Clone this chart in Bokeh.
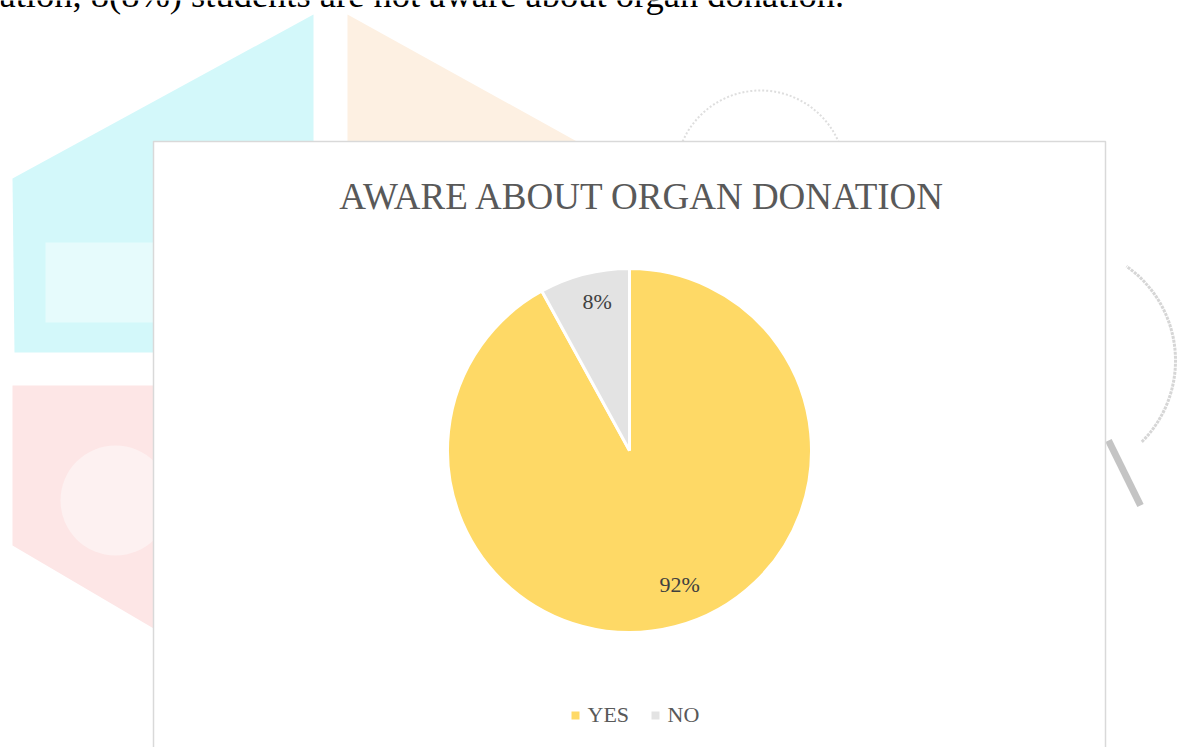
import math
from bokeh.plotting import figure
from bokeh.models import Range1d, ColumnDataSource
from bokeh.core.properties import value
from bokeh.embed import file_html
from bokeh.resources import INLINE

# ---- data ----
categories = ["YES", "NO"]
percents = [92, 8]
colors = ["#FED966", "#E3E3E3"]
title_text = "AWARE ABOUT ORGAN DONATION"
doc_text = "ation, 8(8%) students are not aware about organ donation."

W, H = 1178, 747
def Y(y):
    return H - y

p = figure(width=W, height=H, output_backend="svg", toolbar_location=None,
           x_range=Range1d(0, W), y_range=Range1d(0, H), min_border=0)
p.axis.visible = False
p.grid.visible = False
p.outline_line_color = None
p.background_fill_color = "white"
p.border_fill_color = "white"

SERIF = value("Liberation Serif")

# ---- faint background watermark (document page) ----
p.patch([12, 313, 313, 14], [Y(178), Y(14), Y(352), Y(352)], fill_color="#d3f8fa", line_color=None)
p.quad(left=45, right=160, top=Y(242), bottom=Y(322), fill_color="#e6fbfc", line_color=None)
p.patch([347, 580, 347], [Y(14), Y(143), Y(143)], fill_color="#fdf0e2", line_color=None)
p.patch([12, 160, 160, 12], [Y(385), Y(385), Y(632), Y(545)], fill_color="#fde6e6", line_color=None)
p.circle(x=[115], y=[Y(500)], radius=55, fill_color="#fdf1f1", line_color=None)
p.arc(x=[760], y=[Y(175)], radius=85, start_angle=math.radians(20), end_angle=math.radians(160),
      line_color="#dedede", line_width=2, line_dash="2 2")
p.arc(x=[1060], y=[Y(360)], radius=115, start_angle=math.radians(-45), end_angle=math.radians(55),
      line_color="#d6d6d6", line_width=3, line_dash="3 1")
p.line([1108, 1140], [Y(440), Y(505)], line_color="#c4c4c4", line_width=7)

# ---- top document text (cropped by the page edge, as in the source) ----
p.text(x=[-1], y=[Y(-6)], text=[doc_text], text_font=SERIF, text_font_size="36.5px",
       text_color="#000000", text_baseline="alphabetic", text_align="left")

# ---- chart area ----
p.quad(left=153, right=1105, top=Y(141), bottom=-20, fill_color="white",
       line_color="#d9d9d9", line_width=1.5)

p.text(x=[642], y=[Y(196)], text=[title_text], text_font=SERIF, text_font_size="37px",
       text_color="#595959", text_align="center", text_baseline="alphabetic")

# pie
cx, cy, r = 629, Y(450), 182
total = float(sum(percents))
starts, ends, lx, ly, labels = [], [], [], [], []
cum = 0.0
for v in percents:
    a0 = math.pi / 2 - 2 * math.pi * cum / total
    cum += v
    a1 = math.pi / 2 - 2 * math.pi * cum / total
    starts.append(a0)
    ends.append(a1)
    frac = v / total
    mid = (a0 + a1) / 2
    # best-fit style label placement
    if frac > 0.5:
        mid += math.radians(6)
        rr = 0.79 * r
    else:
        mid -= math.radians(2)
        rr = 0.83 * r
    lx.append(cx + rr * math.cos(mid))
    ly.append(cy + rr * math.sin(mid) + 1)
    labels.append(f"{frac * 100:.0f}%")

src = ColumnDataSource(dict(cat=categories, start=starts, end=ends, color=colors,
                            lx=lx, ly=ly, label=labels))
p.wedge(x=cx, y=cy, radius=r, start_angle="start", end_angle="end", direction="clock",
        fill_color="color", line_color="white", line_width=3, source=src)
p.text(x="lx", y="ly", text="label", source=src, text_font=SERIF, text_font_size="22px",
       text_color="#404040", text_align="center", text_baseline="middle")

# legend (manual, square markers)
leg_x = [575, 655]
p.scatter(x=leg_x, y=[Y(715)] * 2, marker="square", size=8, fill_color=colors, line_color=None)
p.text(x=[x + 12 for x in leg_x], y=[Y(714)] * 2, text=categories, text_font=SERIF,
       text_font_size="22px", text_color="#595959", text_align="left", text_baseline="middle")

open("out.html", "w").write(file_html(p, INLINE))
